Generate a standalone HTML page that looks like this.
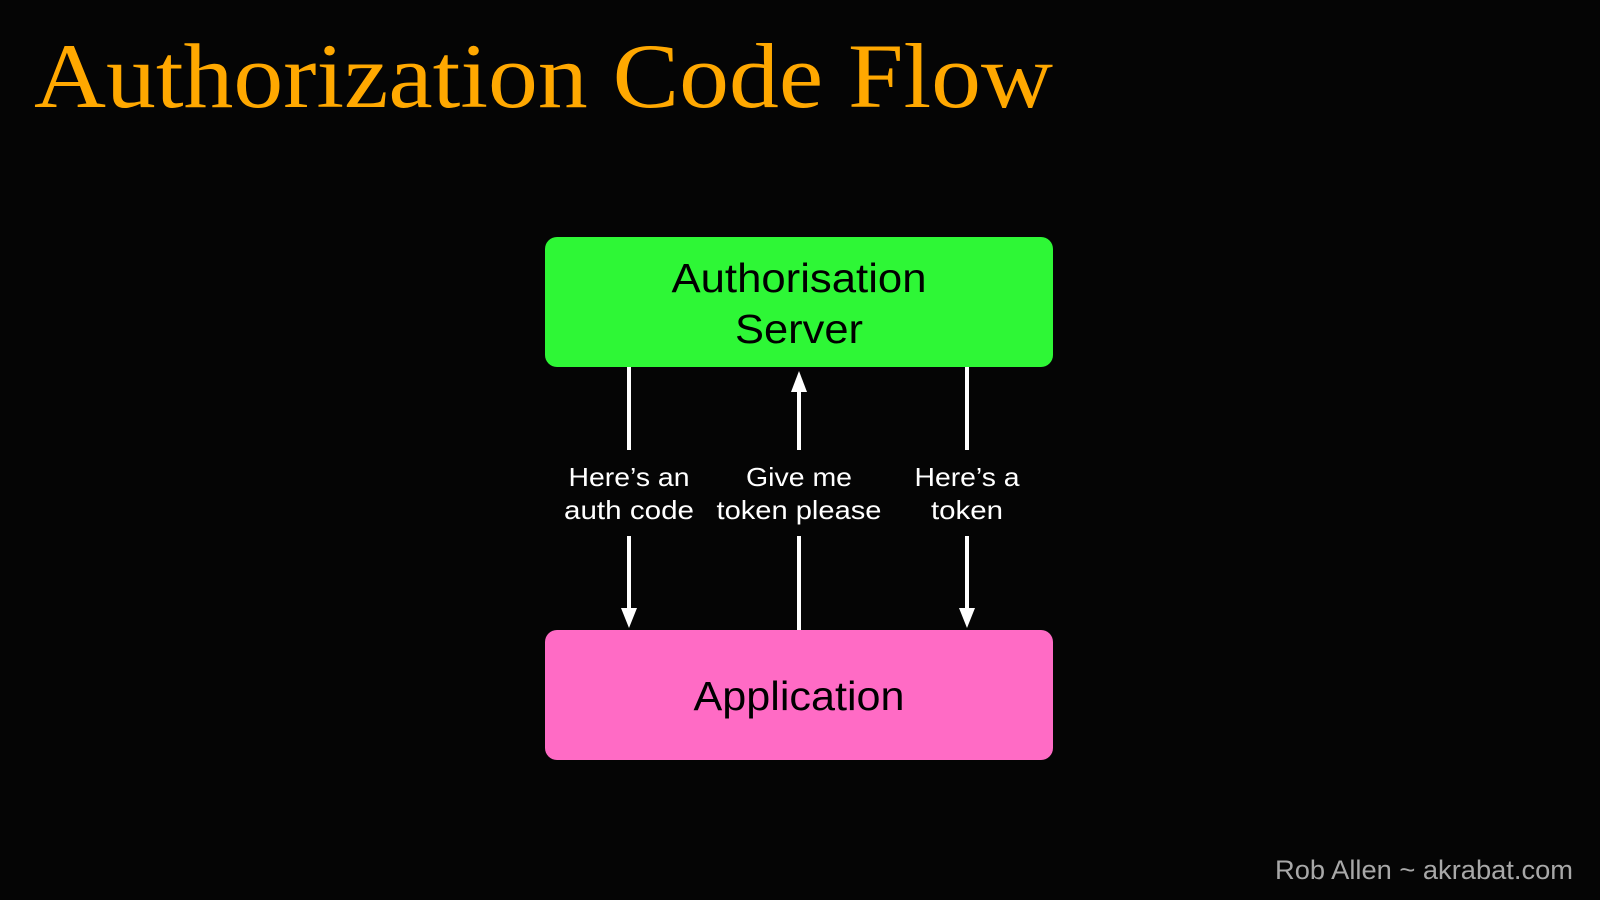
<!DOCTYPE html>
<html><head><meta charset="utf-8"><style>
html,body{margin:0;padding:0;background:#050505;width:1600px;height:900px;overflow:hidden}
</style></head><body>
<svg width="1600" height="900" xmlns="http://www.w3.org/2000/svg">
<rect width="1600" height="900" fill="#050505"/>
<text x="34" y="107" font-family="Liberation Serif, serif" font-size="92" fill="#FFA800" textLength="1019" lengthAdjust="spacingAndGlyphs">Authorization Code Flow</text>
<rect x="545" y="237" width="508" height="130" rx="12" fill="#2EF736"/>
<rect x="545" y="630" width="508" height="130" rx="12" fill="#FF6BC5"/>
<g font-family="Liberation Sans, sans-serif" font-size="41" fill="#000" text-anchor="middle" lengthAdjust="spacingAndGlyphs">
<text x="799" y="292" textLength="255" lengthAdjust="spacingAndGlyphs">Authorisation</text>
<text x="799" y="343" textLength="128" lengthAdjust="spacingAndGlyphs">Server</text>
<text x="799" y="710" textLength="211" lengthAdjust="spacingAndGlyphs">Application</text>
</g>
<g stroke="#fff" stroke-width="4">
<line x1="629" y1="367" x2="629" y2="450"/>
<line x1="629" y1="536" x2="629" y2="612"/>
<line x1="799" y1="388" x2="799" y2="450"/>
<line x1="799" y1="536" x2="799" y2="630"/>
<line x1="967" y1="367" x2="967" y2="450"/>
<line x1="967" y1="536" x2="967" y2="612"/>
</g>
<g fill="#fff">
<polygon points="621,608 637,608 629,628"/>
<polygon points="959,608 975,608 967,628"/>
<polygon points="791,392 807,392 799,371"/>
</g>
<g font-family="Liberation Sans, sans-serif" font-size="26" fill="#fff" text-anchor="middle">
<text x="629" y="486" textLength="121" lengthAdjust="spacingAndGlyphs">Here’s an</text>
<text x="629" y="519" textLength="130" lengthAdjust="spacingAndGlyphs">auth code</text>
<text x="799" y="486" textLength="106" lengthAdjust="spacingAndGlyphs">Give me</text>
<text x="799" y="519" textLength="165" lengthAdjust="spacingAndGlyphs">token please</text>
<text x="967" y="486" textLength="105" lengthAdjust="spacingAndGlyphs">Here’s a</text>
<text x="967" y="519" textLength="72" lengthAdjust="spacingAndGlyphs">token</text>
</g>
<text x="1573" y="879" font-family="Liberation Sans, sans-serif" font-size="27" fill="#a8a8a8" text-anchor="end" textLength="298" lengthAdjust="spacingAndGlyphs">Rob Allen ~ akrabat.com</text>
</svg>
</body></html>
